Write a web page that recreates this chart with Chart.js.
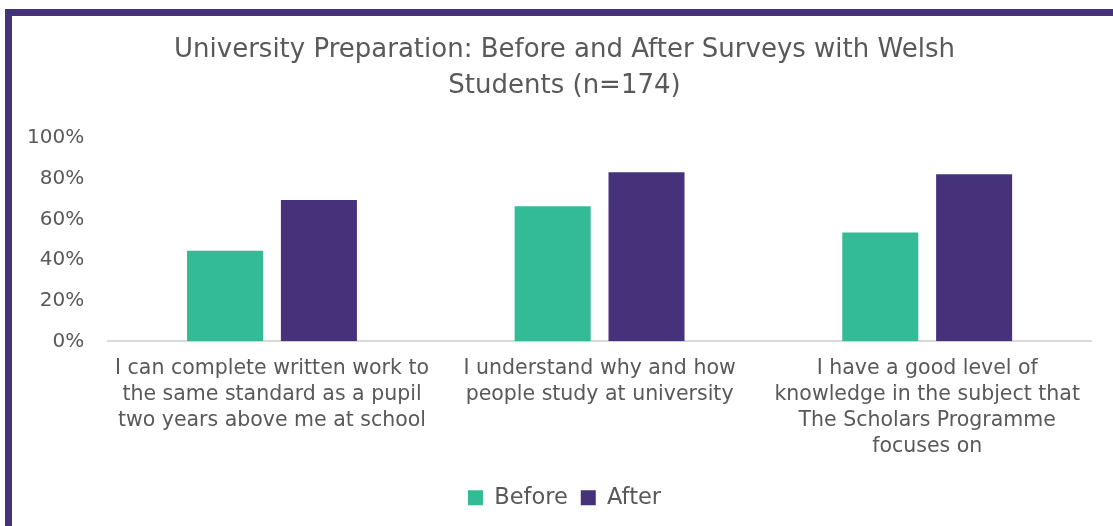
<!DOCTYPE html>
<html lang="en">
<head>
  <meta charset="UTF-8">
  <title>University Preparation</title>
  <script src="https://cdn.jsdelivr.net/npm/chart.js"></script>
  <style>
    body {
      margin: 0;
      padding: 0;
      background: #fff;
      overflow: hidden;
    }
    canvas {
      position: absolute;
      left: 0;
      top: 0;
      display: block;
    }
    .edge {
      position: absolute;
      background: #46327a;
    }
    #edgeTop { left: 5px; top: 9px; width: 1108px; height: 7px; }
    #edgeLeft { left: 5px; top: 9px; width: 7px; height: 517px; }
  </style>
</head>
<body>
  <!-- the original chart box runs a little past the right edge of the picture -->
  <canvas id="graph" width="1126" height="526"></canvas>
  <div class="edge" id="edgeTop"></div>
  <div class="edge" id="edgeLeft"></div>

  <script>
    const categories = [
      ["I can complete written work to", "the same standard as a pupil", "two years above me at school"],
      ["I understand why and how", "people study at university"],
      ["I have a good level of", "knowledge in the subject that", "The Scholars Programme", "focuses on"]
    ];
    const before = [0.445, 0.665, 0.535];
    const after = [0.695, 0.832, 0.822];
    const yTicks = [0, 0.2, 0.4, 0.6, 0.8, 1.0];

    const fontFamily = '"Century Gothic", "DejaVu Sans", sans-serif';
    const textColor = '#595959';

    const ctx = document.getElementById('graph').getContext('2d');
    const chart = new Chart(ctx, {
      type: 'bar',
      data: {
        labels: categories,
        datasets: [
          {
            label: 'Before',
            data: before,
            backgroundColor: '#33bb95',
            barPercentage: 0.81,
            categoryPercentage: 0.573
          },
          {
            label: 'After',
            data: after,
            backgroundColor: '#46327a',
            barPercentage: 0.81,
            categoryPercentage: 0.573
          }
        ]
      },
      options: {
        responsive: false,
        animation: false,
        layout: { padding: { left: 3, right: 0, top: 0, bottom: 7 } },
        plugins: {
          title: {
            display: true,
            text: ['University Preparation: Before and After Surveys with Welsh', 'Students (n=174)'],
            color: textColor,
            font: { family: fontFamily, size: 26, weight: 'normal', lineHeight: 1.385 },
            padding: { top: 32, bottom: 34 }
          },
          legend: {
            position: 'bottom',
            labels: {
              color: textColor,
              font: { family: fontFamily, size: 22.5 },
              boxWidth: 15,
              boxHeight: 15,
              padding: 13
            }
          },
          tooltip: { enabled: false }
        },
        scales: {
          x: {
            grid: { display: false, drawTicks: false },
            border: { display: true, color: '#d9d9d9', width: 2 },
            ticks: {
              color: textColor,
              font: { family: fontFamily, size: 20.5, lineHeight: 1.27 },
              maxRotation: 0,
              padding: 14
            }
          },
          y: {
            min: 0,
            max: 1,
            grid: { display: false, drawTicks: false },
            border: { display: false },
            afterBuildTicks: axis => {
              axis.ticks = yTicks.map(v => ({ value: v }));
            },
            ticks: {
              color: textColor,
              font: { family: fontFamily, size: 20 },
              padding: 24,
              callback: v => Math.round(v * 100) + '%'
            }
          },
          // empty right-hand spacer so the plot ends where the reference's does
          spacer: {
            type: 'linear',
            position: 'right',
            display: true,
            grid: { display: false, drawTicks: false },
            border: { display: false },
            ticks: { display: false },
            afterFit: s => { s.width = 35; }
          }
        }
      }
    });
  </script>
</body>
</html>
